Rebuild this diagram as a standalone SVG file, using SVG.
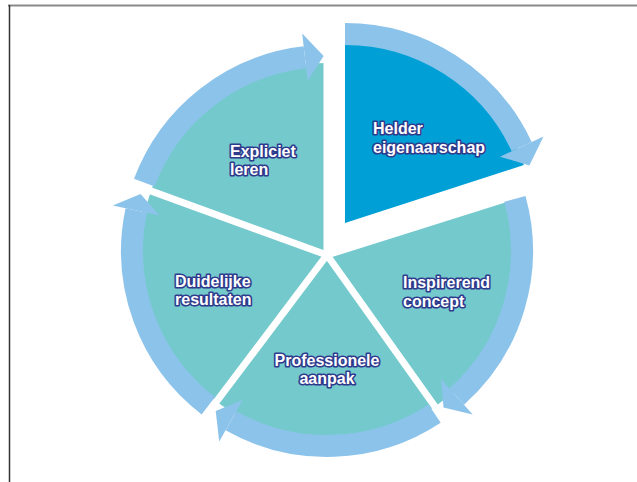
<svg xmlns="http://www.w3.org/2000/svg" width="637" height="482" viewBox="0 0 637 482">
<style>
.teal{fill:#74C9CC}
.dark{fill:#00A0D6}
.band{fill:none;stroke:#8CC3EA;stroke-width:22;stroke-linecap:butt}
.head{fill:#8CC3EA}
.gap{stroke:#ffffff;stroke-width:7;stroke-linecap:butt}
.lbl{font-family:"Liberation Sans",Arial,sans-serif;font-weight:bold;font-size:16px;fill:#ffffff;stroke:#2E3A8C;stroke-width:3.2;stroke-linejoin:round;paint-order:stroke fill}
</style>
<rect x="0" y="0" width="637" height="482" fill="#ffffff"/>
<line x1="8" y1="5.5" x2="637" y2="5.5" stroke="#8a8a8a" stroke-width="2"/>
<line x1="9.5" y1="5" x2="9.5" y2="482" stroke="#333333" stroke-width="1.5"/>

<g id="wheel-base">
  <path class="teal" d="M327,255 L508.7,195.4 A188,188 0 1 1 327,63 Z"/>
  <g id="gaps">
    <line class="gap" x1="327" y1="255" x2="517.8" y2="194.9"/>
    <line class="gap" x1="327" y1="255" x2="327" y2="50"/>
    <line class="gap" x1="327" y1="255" x2="443.1" y2="418"/>
    <line class="gap" x1="327" y1="255" x2="206.6" y2="414.7"/>
    <line class="gap" x1="327" y1="255" x2="139" y2="186.6"/>
  </g>
</g>

<g id="node-helder">
  <path class="dark" d="M345,223 L523.9,165 A190,190 0 0 0 345,39 Z"/>
  <text class="lbl" x="373" y="134">Helder</text>
  <text class="lbl" x="373" y="153">eigenaarschap</text>
</g>
<g id="node-inspirerend">
  <text class="lbl" x="403" y="288">Inspirerend</text>
  <text class="lbl" x="403" y="307">concept</text>
</g>
<g id="node-professionele">
  <text class="lbl" x="327" y="366" text-anchor="middle">Professionele</text>
  <text class="lbl" x="327" y="384" text-anchor="middle">aanpak</text>
</g>
<g id="node-duidelijke">
  <text class="lbl" x="175" y="287">Duidelijke</text>
  <text class="lbl" x="175" y="305">resultaten</text>
</g>
<g id="node-expliciet">
  <text class="lbl" x="230" y="157">Expliciet</text>
  <text class="lbl" x="230" y="175">leren</text>
</g>

<g id="connectors">
  <path class="band" d="M345,34 A195,195 0 0 1 521.7,146.6"/>
  <polygon class="head" points="543.5,136.4 529.4,165.5 500,156.7"/>
  <path class="band" d="M514.9,198.9 A195,195 0 0 1 456.7,396.6"/>
  <polygon class="head" points="472.7,414.5 443.5,407.4 440.8,378.7"/>
  <path class="band" d="M434.6,413.6 A195,195 0 0 1 231,420.7"/>
  <polygon class="head" points="242.8,399.8 215.7,411.1 219.2,441.6"/>
  <path class="band" d="M208.3,405.7 A195,195 0 0 1 136.3,210.5"/>
  <polygon class="head" points="159.7,215.4 140.5,194 112.8,205.5"/>
  <path class="band" d="M144.3,182.7 A195,195 0 0 1 304.9,57.2"/>
  <polygon class="head" points="302.2,33.4 323.6,56 307.6,81.1"/>
</g>
</svg>
